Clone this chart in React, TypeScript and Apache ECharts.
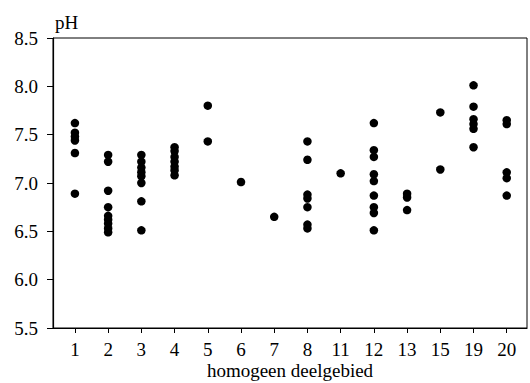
import React, { useEffect, useRef } from "react";
import * as echarts from "echarts";

const categories = ["1", "2", "3", "4", "5", "6", "7", "8", "11", "12", "13", "15", "19", "20"];

const ph1 = [7.62, 7.52, 7.48, 7.44, 7.31, 6.89];
const ph2 = [7.29, 7.22, 6.92, 6.75, 6.66, 6.62, 6.58, 6.53, 6.49];
const ph3 = [7.29, 7.22, 7.16, 7.11, 7.07, 7.0, 6.81, 6.51];
const ph4 = [7.37, 7.33, 7.27, 7.22, 7.17, 7.13, 7.08];
const ph5 = [7.8, 7.43];
const ph6 = [7.01];
const ph7 = [6.65];
const ph8 = [7.43, 7.24, 6.88, 6.84, 6.75, 6.57, 6.53];
const ph11 = [7.1];
const ph12 = [7.62, 7.34, 7.27, 7.09, 7.02, 6.87, 6.75, 6.69, 6.51];
const ph13 = [6.89, 6.85, 6.72];
const ph15 = [7.73, 7.14];
const ph19 = [8.01, 7.79, 7.66, 7.61, 7.56, 7.37];
const ph20 = [7.65, 7.61, 7.11, 7.05, 6.87];

const groups = [ph1, ph2, ph3, ph4, ph5, ph6, ph7, ph8, ph11, ph12, ph13, ph15, ph19, ph20];

const yTicks = [5.5, 6.0, 6.5, 7.0, 7.5, 8.0, 8.5];

const FONT = '"Liberation Serif", "Times New Roman", serif';

export default function App() {
  const ref = useRef<HTMLDivElement>(null);

  useEffect(() => {
    if (!ref.current) return;
    const chart = echarts.init(ref.current, null, { renderer: "svg" });
    const data: number[][] = [];
    groups.forEach((g, i) => g.forEach((v) => data.push([i, v])));
    const idx = categories.map((_, i) => i);

    chart.setOption({
      animation: false,
      backgroundColor: "#ffffff",
      grid: {
        left: 53,
        right: 3,
        top: 38,
        bottom: 55,
        outerBoundsMode: "none",
        containLabel: false,
        show: true,
        borderColor: "#000",
        borderWidth: 1,
        backgroundColor: "transparent",
      },
      xAxis: {
        type: "value",
        min: -0.66,
        max: 13.61,
        name: "homogeen deelgebied",
        nameLocation: "middle",
        nameGap: 33,
        nameMoveOverlap: false,
        nameTextStyle: { fontFamily: FONT, fontSize: 19, color: "#000" },
        axisLine: { show: true, onZero: false, lineStyle: { color: "#000", width: 1.2 } },
        axisTick: { show: true, length: 5, customValues: idx, lineStyle: { color: "#000" } },
        axisLabel: {
          customValues: idx,
          margin: 12,
          fontFamily: FONT,
          fontSize: 19,
          color: "#000",
          formatter: (v: number) => categories[Math.round(v)] ?? "",
        },
        splitLine: { show: false },
      },
      yAxis: {
        type: "value",
        min: 5.5,
        max: 8.5,
        interval: 0.5,
        name: "pH",
        nameLocation: "end",
        nameGap: 6,
        nameTextStyle: { fontFamily: FONT, fontSize: 19, color: "#000", align: "left", verticalAlign: "bottom", padding: [0, 0, 0, 2] },
        axisLine: { show: true, onZero: false, lineStyle: { color: "#000", width: 1.2 } },
        axisTick: { show: true, length: 6, lineStyle: { color: "#000" } },
        axisLabel: {
          margin: 15,
          fontFamily: FONT,
          fontSize: 19,
          color: "#000",
          formatter: (v: number) => (yTicks.some((t) => Math.abs(t - v) < 1e-6) ? v.toFixed(1) : ""),
        },
        splitLine: { show: false },
      },
      series: [
        {
          type: "scatter",
          data,
          symbol: "circle",
          symbolSize: 8.5,
          itemStyle: { color: "#000", opacity: 1 },
        },
      ],
    });
    return () => chart.dispose();
  }, []);

  return (
    <div
      ref={ref}
      style={{ position: "fixed", left: 0, top: 0, width: 530, height: 383, background: "#fff" }}
    />
  );
}
